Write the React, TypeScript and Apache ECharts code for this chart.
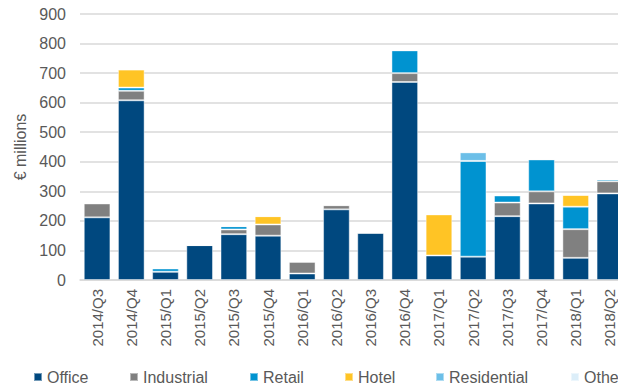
import React, { useEffect, useRef } from "react";
import * as echarts from "echarts";

const categories = [
  "2014/Q3", "2014/Q4", "2015/Q1", "2015/Q2", "2015/Q3", "2015/Q4", "2016/Q1", "2016/Q2",
  "2016/Q3", "2016/Q4", "2017/Q1", "2017/Q2", "2017/Q3", "2017/Q4", "2018/Q1", "2018/Q2",
];
const office =      [212, 608, 28, 118, 155, 150, 22, 239, 160, 670, 83, 79, 216, 259, 75, 293];
const industrial =  [47, 32, 0, 0, 16, 38, 40, 14, 0, 30, 0, 0, 46, 41, 97, 41];
const retail =      [0, 11, 11, 0, 11, 0, 0, 1, 0, 77, 0, 324, 24, 108, 76, 6];
const hotel =       [0, 61, 0, 0, 0, 28, 0, 0, 0, 0, 139, 0, 0, 0, 40, 0];
const residential = [0, 0, 0, 0, 0, 0, 0, 3, 0, 0, 0, 29, 0, 0, 0, 0];
const other =       [0, 0, 0, 0, 0, 0, 0, 0, 0, 0, 0, 0, 0, 0, 0, 0];
const yTicks = [0, 100, 200, 300, 400, 500, 600, 700, 800, 900];

const seriesDefs = [
  { name: "Office", data: office, color: "#00487F" },
  { name: "Industrial", data: industrial, color: "#808080" },
  { name: "Retail", data: retail, color: "#0093D0" },
  { name: "Hotel", data: hotel, color: "#FFC425" },
  { name: "Residential", data: residential, color: "#6CBFE8" },
  { name: "Other", data: other, color: "#DCEEF9" },
];
const legendLefts = [33, 129, 249, 344, 435, 570];

const FONT = "'Liberation Sans', Arial, sans-serif";
const TEXT = "#595959";

export default function App() {
  const ref = useRef<HTMLDivElement>(null);
  useEffect(() => {
    if (!ref.current) return;
    const chart = echarts.init(ref.current, null, { renderer: "svg" });
    chart.setOption({
      animation: false,
      textStyle: { fontFamily: FONT },
      grid: {
        left: 80, width: 547, top: 14, height: 266,
        containLabel: false, outerBoundsMode: "none",
      },
      legend: seriesDefs.map((s, i) => ({
        left: legendLefts[i],
        top: 369,
        padding: 0,
        itemWidth: 8,
        itemHeight: 8,
        icon: "rect",
        textStyle: { fontSize: 16, color: TEXT, fontFamily: FONT },
        data: [s.name],
      })),
      xAxis: {
        type: "category",
        data: categories,
        axisLine: { show: true, lineStyle: { color: "#D9D9D9", width: 1.5 } },
        axisTick: { show: false },
        axisLabel: { rotate: 90, margin: 9, fontSize: 15, color: TEXT, fontFamily: FONT },
      },
      yAxis: {
        type: "value",
        min: yTicks[0],
        max: yTicks[yTicks.length - 1],
        interval: 100,
        name: "€ millions",
        nameLocation: "middle",
        nameGap: 49,
        nameRotate: 90,
        nameTextStyle: { fontSize: 16, color: TEXT, fontFamily: FONT },
        axisLine: { show: false },
        axisTick: { show: false },
        axisLabel: { margin: 14, fontSize: 16, color: TEXT, fontFamily: FONT },
        splitLine: { lineStyle: { color: "#D9D9D9", width: 1.5 } },
      },
      series: seriesDefs.map((s) => ({
        name: s.name,
        type: "bar",
        stack: "total",
        data: s.data,
        barCategoryGap: "22%",
        itemStyle: { color: s.color, borderColor: "rgba(255,255,255,0.45)", borderWidth: 1 },
      })),
    });
    return () => chart.dispose();
  }, []);
  return <div ref={ref} style={{ width: 618, height: 387, position: "absolute", left: 0, top: 0 }} />;
}
